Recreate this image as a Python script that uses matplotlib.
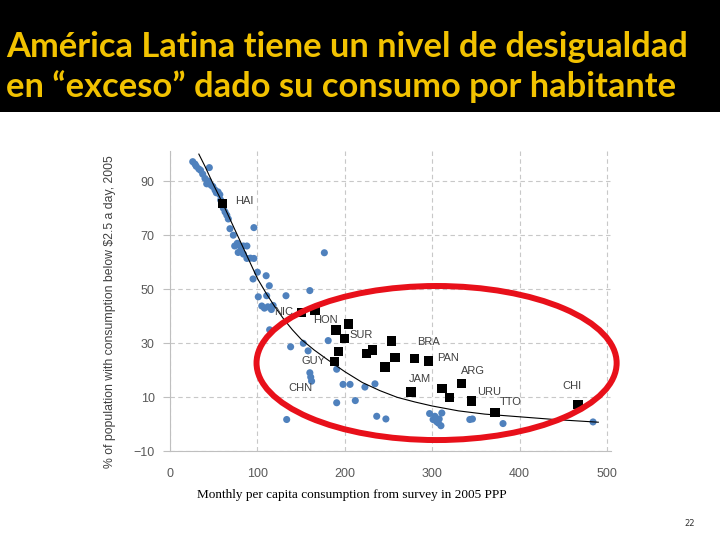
import matplotlib.pyplot as plt
from matplotlib.patches import Ellipse, Rectangle

# Puntos azules (paises del mundo)
world_x = [26, 28.6, 30, 33, 35, 37.4, 40, 45, 42, 44, 47, 49, 51.5, 53, 55, 57, 58, 61,
           63, 65, 66.7, 68.6, 96, 72.4, 74, 77, 80, 84, 88, 78, 81, 84, 88, 92, 96, 100,
           95, 110, 113.6, 110.6, 101, 132.7, 160, 176.6, 108, 112, 116, 118, 105, 114,
           138, 152.5, 158, 160, 161, 162, 181, 190.7, 198, 206, 190.7, 212, 223, 234.5,
           236.5, 133.5, 247, 297, 301, 303, 305, 307, 308, 311, 310, 343, 346, 381, 484]
world_y = [97.2, 96.3, 95.5, 94.5, 94, 92.6, 91, 95, 89, 90, 88.5, 88, 86.7, 85.7, 86, 85, 83, 80,
           78.6, 77.4, 76, 72.4, 72.8, 70, 66, 67, 66, 66, 66, 63.6, 64, 63, 61.4, 61.5, 61.4, 56.3,
           53.8, 55, 51.3, 47.6, 47.2, 47.6, 49.5, 63.5, 43, 43.5, 42.5, 44, 43.8, 35,
           28.7, 30, 27.2, 19.1, 17.5, 16, 31, 20.4, 14.8, 14.8, 8, 8.8, 13.8, 15,
           3, 1.8, 2, 4, 1.8, 3, 1, 0.5, 2, 4.2, -0.5, 1.8, 2, 0.3, 0.9]

# Cuadrados negros (America Latina)
lac_x = [60, 150.7, 166, 190, 204, 199.5, 192.6, 188, 225, 232, 253.6, 257.4, 246, 280,
         295.6, 275.7, 311, 320, 333.7, 345, 372, 467]
lac_y = [81.7, 41.4, 42.3, 34.9, 37.1, 31.7, 27, 23.2, 26.3, 27.5, 30.9, 24.7, 21.3, 24.4,
         23.5, 12, 13.3, 10, 15.2, 8.6, 4.5, 7.4]

# Etiquetas de paises
lab_names = ['HAI', 'NIC', 'HON', 'SUR', 'GUY', 'CHN', 'BRA', 'PAN', 'JAM', 'ARG', 'URU', 'TTO', 'CHI']
lab_x = [74, 119, 164, 205, 151, 135, 283, 306, 273, 333, 351, 377, 449]
lab_y = [81.5, 40.5, 37.5, 32, 22.5, 12.5, 29.2, 23.3, 15.5, 18.5, 11, 7, 13]

# Curva ajustada
fit_x = [33, 40, 50, 60, 70, 80, 90, 100, 110, 120, 130, 140, 150, 165, 180, 200, 220, 240,
         260, 280, 300, 330, 360, 400, 440, 490]
fit_y = [100, 95.5, 88.5, 82, 75, 68, 61, 54, 48.5, 43.5, 39, 35, 31.5, 27.5, 24, 19.5, 15.5,
         12.5, 10, 8.3, 6.8, 5, 3.8, 2.8, 1.8, 0.8]

fig = plt.figure(figsize=(7.2, 5.4), dpi=100)
fig.patch.set_facecolor('white')

# franja negra del titulo
fig.patches.append(Rectangle((0, 1 - 112 / 540), 1, 112 / 540, transform=fig.transFigure,
                             facecolor='black', edgecolor='none', zorder=0))
title_font = ['Lato', 'DejaVu Sans']
fig.text(6 / 720, 1 - 57 / 540, 'América Latina tiene un nivel de desigualdad',
         color='#F2C200', fontsize=24.8, fontweight='bold', family=title_font, va='baseline')
fig.text(6 / 720, 1 - 97 / 540, 'en \u201cexceso\u201d dado su consumo por habitante',
         color='#F2C200', fontsize=24.8, fontweight='bold', family=title_font, va='baseline')

ax = fig.add_axes([170 / 720, 1 - 451.4 / 540, 441.4 / 720, 300 / 540])
ax.set_facecolor('white')

ax.plot(fit_x, fit_y, color='black', lw=0.8, zorder=3)
ax.scatter(world_x, world_y, s=26, color='#4F81BD', edgecolors='none', zorder=2)
ax.scatter(lac_x, lac_y, s=46, marker='s', color='black', edgecolors='none', zorder=4)

for name, x, y in zip(lab_names, lab_x, lab_y):
    ax.text(x, y, name, fontsize=8, color='#404040', zorder=5, family='Liberation Sans')

ell = Ellipse((305, 22.7), width=412, height=57, fill=False, edgecolor='#E8101A',
              lw=4.3, clip_on=False, zorder=6)
ax.add_patch(ell)

ax.set_xlim(0, 505)
ax.set_ylim(-10, 101)
ax.set_xticks([0, 100, 200, 300, 400, 500])
ax.set_yticks([-10, 10, 30, 50, 70, 90])
ax.grid(True, color='#C8C8C8', linestyle=(0, (4, 3)), lw=0.8)
ax.set_axisbelow(True)
for s in ['top', 'right']:
    ax.spines[s].set_visible(False)
for s in ['left', 'bottom']:
    ax.spines[s].set_color('#BFBFBF')
    ax.spines[s].set_linewidth(0.8)
ax.tick_params(axis='x', length=0, pad=12, labelsize=9, labelcolor='#595959')
ax.tick_params(axis='y', length=5, color='#BFBFBF', pad=6, labelsize=9, labelcolor='#595959')
for lbl in ax.get_xticklabels() + ax.get_yticklabels():
    lbl.set_family('Liberation Sans')

fig.text(110 / 720, 1 - 312 / 540, '% of population with consumption below $2.5 a day, 2005',
         rotation=90, ha='center', va='center', fontsize=8.8, color='#404040',
         family='Liberation Sans')
fig.text(352 / 720, 1 - 495 / 540, 'Monthly per capita consumption from survey in 2005 PPP',
         ha='center', va='center', fontsize=9.5, color='black', family='Liberation Serif')

fig.text(690 / 720, 1 - 524 / 540, '22', ha='center', va='center', fontsize=6, color='#333333')

fig.savefig('out.png', dpi=100)
